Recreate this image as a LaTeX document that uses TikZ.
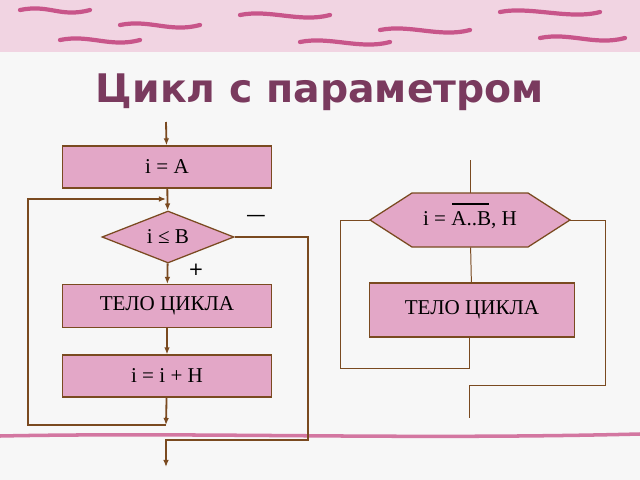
\documentclass[tikz,border=0pt]{standalone}
\usepackage{fontspec}
\setmainfont{Liberation Serif}
\setsansfont{DejaVu Sans}
\usetikzlibrary{shapes.geometric,positioning,arrows.meta}
\definecolor{boxfill}{HTML}{E3A7C7}
\definecolor{lineclr}{HTML}{7A4A20}
\definecolor{titleclr}{HTML}{7A3A5E}
\definecolor{deco}{HTML}{C8558A}
\tikzset{
	blk/.style={draw=lineclr, line width=0.9pt, fill=boxfill, minimum width=5.22cm, minimum height=1.05cm, inner sep=0pt, font=\fontsize{15}{15}\selectfont},
	dec/.style={draw=lineclr, line width=0.9pt, fill=boxfill, diamond, aspect=2, minimum width=3.3cm, minimum height=1.3cm, inner sep=0pt, font=\fontsize{15}{15}\selectfont},
	flow/.style={draw=lineclr, line width=1.3pt, -{Latex[length=5pt,width=4pt]}},
	conn/.style={draw=lineclr, line width=0.7pt}
}
\begin{document}
\begin{tikzpicture}[x=0.025cm, y=-0.025cm]
	\fill[white!94!gray] (0,0) rectangle (640,480);
	\useasboundingbox (0,0) rectangle (640,480);
	% decoration
	\fill[deco!25] (0,0) rectangle (640,52);
	\foreach \a/\b/\c in {20/10/90, 120/25/200, 240/15/330, 380/30/470, 500/12/600, 60/40/140, 300/42/390, 540/38/625} {
		\draw[deco, line width=3pt, line cap=round] (\a,\b) .. controls (\a+30,\b-6) and (\c-30,\b+8) .. (\c,\b);
	}
	\draw[deco!80, line width=2.5pt] (0,436) .. controls (200,432) and (400,440) .. (640,434);
	% title
	\node[font=\sffamily\bfseries\fontsize{28}{28}\selectfont, text=titleclr] (title) at (320,92) {Цикл с параметром};
	% left chart
	\node[blk] (init) at (167,167) {i = A};
	\node[dec] (cond) at (168,237) {i ≤ B};
	\node[blk, minimum height=1.07cm] (body) at (167,306) {ТЕЛО ЦИКЛА};
	\node[blk] (step) at (167,376) {i = i + H};
	\coordinate (top) at (166,122);
	\coordinate (loopa) at (166,425);
	\coordinate (exit) at (166,467);
	\draw[flow] (top) -- (init);
	\draw[flow] (init) -- (cond);
	\draw[flow] (cond) -- (body);
	\draw[flow] (body) -- (step);
	\draw[flow] (step) -- (loopa);
	\draw[flow] (loopa) -- (28,425) -- (28,199) -- (166,199);
	\draw[flow] (cond.east) -- (308,237) -- (308,440) -- (166,440) -- (exit);
	\node[font=\sffamily\fontsize{14}{14}\selectfont] (minus) at (256,218) {—};
	\node[font=\sffamily\fontsize{13}{13}\selectfont] (plus) at (196,270) {+};
	% right chart
	\draw[draw=lineclr, line width=0.9pt, fill=boxfill] (370,220) -- (412,193) -- (528,193) -- (570,220) -- (528,247) -- (412,247) -- cycle;
	\node[font=\fontsize{15}{15}\selectfont, minimum width=5cm, minimum height=1.35cm, inner sep=0pt] (range) at (470,220) {i = A..B, H};
	\draw[line width=1pt] (452,204) -- (489,204);
	\node[blk, minimum width=5.12cm, minimum height=1.35cm] (rbody) at (472,310) {ТЕЛО ЦИКЛА};
	\coordinate (rtop) at (470,160);
	\coordinate (rend) at (469,418);
	\draw[conn] (rtop) -- (range);
	\draw[conn] (range) -- (rbody);
	\draw[conn] (469,337) -- (469,368) -- (340,368) -- (340,220) -- (range.west);
	\draw[conn] (range.east) -- (605,220) -- (605,385) -- (469,385) -- (rend);
\end{tikzpicture}
\end{document}
